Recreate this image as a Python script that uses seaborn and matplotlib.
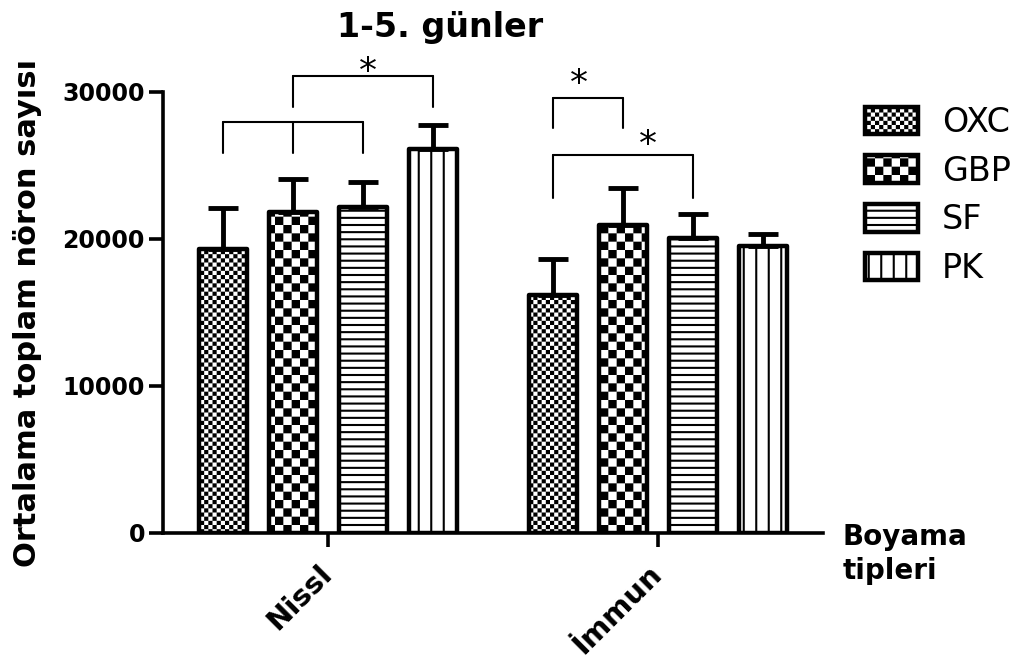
"""
1-5. günler: boyama tiplerine göre ortalama toplam nöron sayısı
Kareli / çizgili dolgular için küçük özel tarama (hatch) desenleri tanımlanır.
"""
import warnings

import numpy as np
import pandas as pd
import matplotlib
matplotlib.use("Agg")
import matplotlib.pyplot as plt
import matplotlib.hatch as mhatch
from matplotlib.path import Path
import seaborn as sns

warnings.filterwarnings("ignore")

# --- veri ---
groups = ["Nissl", "İmmun"]
drugs = ["OXC", "GBP", "SF", "PK"]
means_nissl = [19320, 21870, 22210, 26150]
means_immun = [16190, 20950, 20070, 19490]
err_nissl = [2770, 2180, 1690, 1610]
err_immun = [2430, 2500, 1610, 830]
hatches = ["c", "C", "h", "v"]   # ince kare, kaba kare, yatay, dikey

# anlamlılık çizgileri: (grup, ilaç indeksleri, üst y, alt y)
brackets = [
    (0, [0, 1, 2], 27980, 25870),
    (0, [1, 3], 31110, 29000),
    (1, [0, 1], 29570, 27550),
    (1, [0, 2], 25710, 22810),
]
stars = [(0.12, 30700), (0.76, 29850), (0.97, 25700)]


class CheckerHatch(mhatch.HatchPatternBase):
    # 'c' ince, 'C' kaba dama deseni
    def __init__(self, hatch, density):
        self.n = 24 * hatch.count("c") + 12 * hatch.count("C")
        self.num_vertices = (self.n * self.n // 2) * 5

    def set_vertices_and_codes(self, vertices, codes):
        s = 1.0 / self.n
        m = 0.0104  # hatch çizgi kalınlığının yarısı
        k = 0
        for i in range(self.n):
            for j in range(self.n):
                if (i + j) % 2:
                    continue
                x0, y0, x1, y1 = i * s + m, j * s + m, (i + 1) * s - m, (j + 1) * s - m
                vertices[k:k + 5] = [(x0, y0), (x1, y0), (x1, y1), (x0, y1), (x0, y0)]
                codes[k:k + 5] = [Path.MOVETO, Path.LINETO, Path.LINETO,
                                  Path.LINETO, Path.CLOSEPOLY]
                k += 5


class LineHatch(mhatch.HatchPatternBase):
    # 'h' sık yatay, 'v' seyrek dikey çizgiler
    def __init__(self, hatch, density):
        self.nh = 14 * hatch.count("h")
        self.nv = 8 * hatch.count("v")
        self.num_vertices = 2 * (self.nh + self.nv)

    def set_vertices_and_codes(self, vertices, codes):
        k = 0
        for y in (np.arange(self.nh) + 0.5) / max(self.nh, 1):
            vertices[k:k + 2] = [(0, y), (1, y)]
            k += 2
        for x in (np.arange(self.nv) + 0.5) / max(self.nv, 1):
            vertices[k:k + 2] = [(x, 0), (x, 1)]
            k += 2
        codes[0::2] = Path.MOVETO
        codes[1::2] = Path.LINETO


mhatch._hatch_types.extend([CheckerHatch, LineHatch])

sns.set_style("ticks", {"axes.edgecolor": "black", "text.color": "black",
                        "xtick.color": "black", "ytick.color": "black",
                        "axes.labelcolor": "black"})
plt.rcParams["font.family"] = ["DejaVu Sans"]
plt.rcParams["hatch.linewidth"] = 1.5
plt.rcParams["hatch.color"] = "black"

df = pd.DataFrame({
    "grup": np.repeat(groups, len(drugs)),
    "ilac": drugs * len(groups),
    "ortalama": means_nissl + means_immun,
})

fig, ax = plt.subplots(figsize=(10.22, 6.59), dpi=100)
fig.subplots_adjust(left=0.1595, right=0.8053, bottom=0.1912, top=0.8604)

sns.barplot(data=df, x="grup", y="ortalama", hue="ilac", hue_order=drugs,
            palette=["white"] * 4, saturation=1, edgecolor="black", linewidth=3.2,
            width=0.85, gap=0.32, errorbar=None, legend=False, ax=ax)
bar_conts = list(ax.containers)

errs = [[en, ei] for en, ei in zip(err_nissl, err_immun)]
for i, cont in enumerate(bar_conts):
    xs, ys = [], []
    for bar in cont:
        bar.set_hatch(hatches[i])
        bar.set_joinstyle("round")
        xs.append(bar.get_x() + bar.get_width() / 2)
        ys.append(bar.get_height())
    ax.errorbar(xs, ys, yerr=[np.zeros(len(xs)), errs[i]], fmt="none",
                ecolor="black", elinewidth=3.5, capsize=10.5, capthick=3.5)


def bar_x(g, d):
    b = bar_conts[d][g]
    return b.get_x() + b.get_width() / 2


for g, idx, top, bottom in brackets:
    xs = [bar_x(g, d) for d in idx]
    ax.plot([xs[0], xs[-1]], [top, top], color="black", lw=1.5, clip_on=False)
    for x in xs:
        ax.plot([x, x], [bottom, top], color="black", lw=1.5, clip_on=False)
for x, y in stars:
    ax.text(x, y, "*", ha="center", va="baseline", fontsize=26)

ax.set_xlim(-0.5, 1.5)
ax.set_ylim(0, 30000)
ax.set_yticks([0, 10000, 20000, 30000])
sns.despine(ax=ax)
for side in ["left", "bottom"]:
    ax.spines[side].set_linewidth(2.6)
ax.tick_params(axis="both", length=10, width=2.6, pad=3)
ax.tick_params(axis="x", pad=16)
ax.tick_params(axis="y", labelsize=17)
for lbl in ax.get_yticklabels():
    lbl.set_fontweight("bold")
plt.setp(ax.get_xticklabels(), rotation=45, ha="right", va="center",
         rotation_mode="anchor", fontsize=21, fontweight="bold")

ax.set_ylabel("Ortalama toplam nöron sayısı", fontsize=22, fontweight="bold")
ax.yaxis.set_label_coords(-0.183, 0.5)
ax.set_xlabel("Boyama\ntipleri", fontsize=20, fontweight="bold", ha="left",
              va="top", linespacing=1.25)
ax.xaxis.set_label_coords(1.029, 0.022)

fig.text(440 / 1022, 1 - 37 / 659, "1-5. günler", ha="center", va="baseline",
         fontsize=24, fontweight="bold")

handles = [cont[0] for cont in bar_conts]
fig.legend(handles, drugs, loc="upper left", bbox_to_anchor=(865 / 1022, 1 - 106 / 659),
           frameon=False, fontsize=24, handlelength=1.6, handleheight=0.9,
           labelspacing=0.47, handletextpad=0.7, borderpad=0, borderaxespad=0)

fig.savefig("out.png", dpi=100)
